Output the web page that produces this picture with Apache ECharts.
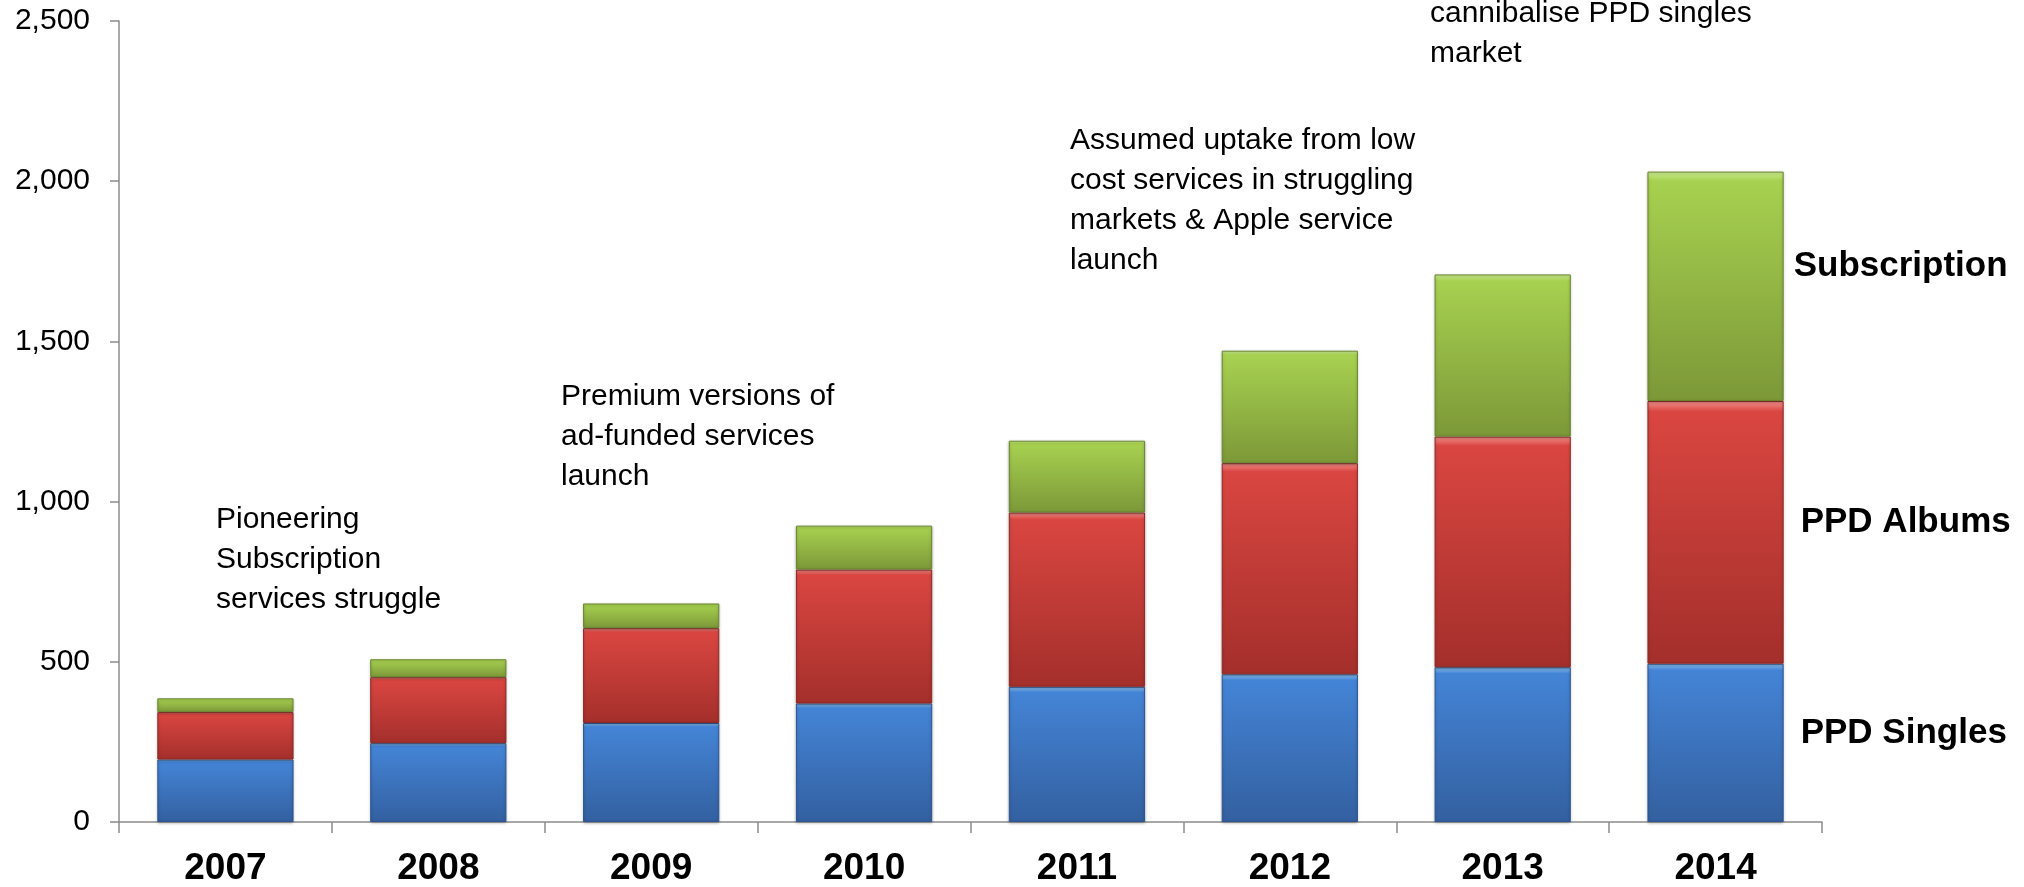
<!DOCTYPE html>
<html>
<head>
<meta charset="utf-8">
<script src="https://cdn.jsdelivr.net/npm/echarts@6/dist/echarts.min.js"></script>
<style>
  html, body { margin: 0; padding: 0; background: #fff; }
  #chart { width: 2024px; height: 887px; }
</style>
</head>
<body>
<div id="chart"></div>
<script>
// Digital music revenue by format, 2007-2014
const years = ['2007', '2008', '2009', '2010', '2011', '2012', '2013', '2014'];
const ppdSingles   = [195, 246, 309, 370, 422, 461, 483, 494];
const ppdAlbums    = [148, 206, 296, 418, 544, 659, 720, 820];
const subscription = [43, 56, 77, 137, 224, 351, 506, 716];
const seriesNames  = ['PPD Singles', 'PPD Albums', 'Subscription'];

// Commentary placed over the chart area
const notes = [
  { lines: ['Pioneering', 'Subscription', 'services struggle'], left: 216, top: 500 },
  { lines: ['Premium versions of', 'ad-funded services', 'launch'], left: 561, top: 377 },
  { lines: ['Assumed uptake from low', 'cost services in struggling', 'markets & Apple service', 'launch'], left: 1070, top: 121 },
  { lines: ['cannibalise PPD singles', 'market'], left: 1430, top: -6 }
];

const FONT = "'Liberation Sans', Arial, sans-serif";

function bevelFill(light, top, bottom) {
  return new echarts.graphic.LinearGradient(0, 0, 0, 1, [
    { offset: 0, color: light },
    { offset: 0.04, color: top },
    { offset: 1, color: bottom }
  ]);
}

const palettes = [
  { fill: bevelFill('#93c9f7', '#4484d6', '#3360a0'), border: '#2d5590' },
  { fill: bevelFill('#f5938e', '#da4641', '#a42f2b'), border: '#8e2825' },
  { fill: bevelFill('#cdee94', '#a7d150', '#7c9838'), border: '#6a8530' }
];

function makeSeries(name, values, idx, labelGap, labelShiftY) {
  return {
    name: name,
    type: 'bar',
    stack: 'total',
    barCategoryGap: '36%',
    itemStyle: {
      color: palettes[idx].fill,
      borderColor: palettes[idx].border,
      borderWidth: 1,
      shadowColor: 'rgba(0,0,0,0.25)',
      shadowBlur: 3,
      shadowOffsetY: 1
    },
    data: values.map((v, i) => {
      if (i !== values.length - 1) return v;
      // the last column carries the series name as its legend
      return {
        value: v,
        label: {
          show: true,
          position: 'right',
          distance: labelGap,
          offset: [0, labelShiftY],
          formatter: name,
          fontFamily: FONT,
          fontWeight: 'bold',
          fontSize: 35,
          color: '#000'
        }
      };
    })
  };
}

const chart = echarts.init(document.getElementById('chart'), null, { renderer: 'canvas' });

chart.setOption({
  animation: false,
  backgroundColor: '#ffffff',
  grid: { left: 119, right: 202, top: 21, bottom: 63 },
  xAxis: {
    type: 'category',
    data: years,
    boundaryGap: true,
    axisLine: { lineStyle: { color: '#8c8c8c', width: 1.5 } },
    axisTick: { show: true, length: 11, lineStyle: { color: '#8c8c8c', width: 1.5 } },
    axisLabel: { margin: 28, fontFamily: FONT, fontWeight: 'bold', fontSize: 37, color: '#000' }
  },
  yAxis: {
    type: 'value',
    min: 0,
    max: 2500,
    interval: 500,
    axisLine: { show: true, lineStyle: { color: '#8c8c8c', width: 1.5 } },
    axisTick: { show: true, inside: false, length: 9, lineStyle: { color: '#8c8c8c', width: 1.5 } },
    splitLine: { show: false },
    axisLabel: {
      margin: 29,
      fontFamily: FONT,
      fontSize: 30,
      color: '#000',
      formatter: v => v.toLocaleString('en-US')
    }
  },
  series: [
    makeSeries(seriesNames[0], ppdSingles, 0, 17, -10),
    makeSeries(seriesNames[1], ppdAlbums, 1, 17, -10),
    makeSeries(seriesNames[2], subscription, 2, 10, -20)
  ],
  graphic: notes.map(n => ({
    type: 'text',
    left: n.left,
    top: n.top,
    silent: true,
    style: {
      text: n.lines.join('\n'),
      font: '30px ' + FONT,
      lineHeight: 40,
      fill: '#000'
    }
  }))
});
</script>
</body>
</html>
